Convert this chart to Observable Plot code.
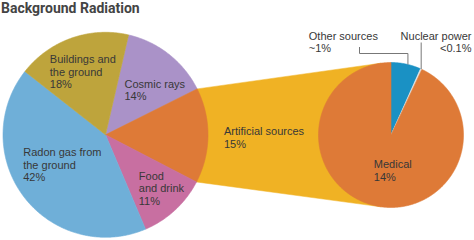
<!DOCTYPE html>
<html><head><meta charset="utf-8">
<script src="https://cdn.jsdelivr.net/npm/d3@7"></script>
<script src="https://cdn.jsdelivr.net/npm/@observablehq/plot@0.6"></script>
<style>
body{margin:0;background:#fff;}
#title{font-family:Roboto,"Liberation Sans",sans-serif;font-weight:700;font-size:14px;line-height:16px;height:20px;color:#444;padding-left:1px;box-sizing:border-box;white-space:nowrap;}
#chart svg{display:block;}
</style></head><body>
<div id="title">Background Radiation</div>
<div id="chart"></div>
<script>
// ---- data ----
const leftCategories = ["Cosmic rays", "Artificial sources", "Food and drink", "Radon gas from the ground", "Buildings and the ground"];
const leftValues = [14, 15, 11, 42, 18];
const leftLabelLines = [["Cosmic rays"], ["Artificial sources"], ["Food", "and drink"], ["Radon gas from", "the ground"], ["Buildings and", "the ground"]];
const leftColors = ["#aa92c8", "#de7a37", "#c86fa1", "#6fafd8", "#bea43c"];

const rightCategories = ["Other sources", "Nuclear power", "Medical"];
const rightValues = [1, 0.05, 13.95];
const rightLabelLines = [["Other sources", "~1%"], ["Nuclear power", "<0.1%"], ["Medical", "14%"]];
const rightColors = ["#1a91c4", "#e4e4e4", "#de7a37"];

const connectorColor = "#f0b224";
const textColor = "#383838";

// ---- layout ----
const W = 474, H = 240, top0 = 20;
const L = {cx: 105, cy: 134.3, r: 102.5, start: 13};
const R = {cx: 390.5, cy: 134.5, r: 72.5, start: 0};
const lineStep = 12.6;
const leftLabelPos = [[124, 87], [223.5, 134.5], [138.3, 179], [22.7, 155.7], [49.3, 62.5]];
const rightLabelPos = [[308.3, 39, "start"], [471, 39, "end"], [373.3, 167.5, "start"]];

function pieAngles(values, startDeg) {
  const total = d3.sum(values);
  let a = startDeg;
  return values.map(v => { const s = a; a += v / total * 360; return [s, a]; });
}
function pt(c, deg, r = c.r) {
  const a = deg * Math.PI / 180;
  return [c.cx + r * Math.sin(a), c.cy - r * Math.cos(a)];
}
function wedge(c, a0, a1) {
  const pts = [[c.cx, c.cy]];
  const n = Math.max(2, Math.ceil((a1 - a0) / 0.5));
  for (let i = 0; i <= n; i++) pts.push(pt(c, a0 + (a1 - a0) * i / n));
  pts.push([c.cx, c.cy]);
  return pts;
}
function tangent(P, c, upper) {
  const dx = P[0] - c.cx, dy = P[1] - c.cy;
  const d = Math.hypot(dx, dy);
  const th = Math.atan2(dy, dx), al = Math.acos(c.r / d);
  const cands = [th + al, th - al].map(t => [c.cx + c.r * Math.cos(t), c.cy + c.r * Math.sin(t)]);
  cands.sort((a, b) => a[1] - b[1]);
  return upper ? cands[0] : cands[1];
}

const la = pieAngles(leftValues, L.start);
const ra = pieAngles(rightValues, R.start);
const artIdx = leftCategories.indexOf("Artificial sources");
const A1 = pt(L, la[artIdx][0]), A2 = pt(L, la[artIdx][1]);
const T1 = tangent(A1, R, true), T2 = tangent(A2, R, false);
const connector = [[L.cx, L.cy], A1, T1, [R.cx, R.cy], T2, A2, [L.cx, L.cy]];

const X = d => d[0], Y = d => d[1];
const marks = [];
marks.push(Plot.line(connector, {x: X, y: Y, fill: connectorColor, stroke: connectorColor, strokeWidth: 0.5, curve: "linear-closed"}));
la.forEach(([a0, a1], i) => marks.push(Plot.line(wedge(L, a0, a1), {x: X, y: Y, fill: leftColors[i], stroke: leftColors[i], strokeWidth: 0.6})));
ra.forEach(([a0, a1], i) => marks.push(Plot.line(wedge(R, a0, a1), {x: X, y: Y, fill: rightColors[i], stroke: rightColors[i], strokeWidth: 0.6})));

// leader lines
const otherEnd = pt(R, (ra[0][0] + ra[0][1]) / 2 + 1.5);
const nucEnd = pt(R, (ra[1][0] + ra[1][1]) / 2);
const leaders = [
  [[359, 46.5], [359, 53], [otherEnd[0], 53], otherEnd],
  [[nucEnd[0], 42], nucEnd]
];
leaders.forEach(l => marks.push(Plot.line(l, {x: X, y: Y, stroke: "#777", strokeWidth: 1, strokeLinejoin: "miter", strokeLinecap: "butt"})));

// labels
const texts = [];
leftCategories.forEach((c, i) => {
  const lines = [...leftLabelLines[i], `${leftValues[i]}%`];
  lines.forEach((t, j) => texts.push({t, x: leftLabelPos[i][0], y: leftLabelPos[i][1] + j * lineStep, anchor: "start"}));
});
rightCategories.forEach((c, i) => {
  rightLabelLines[i].forEach((t, j) => texts.push({t, x: rightLabelPos[i][0], y: rightLabelPos[i][1] + j * lineStep, anchor: rightLabelPos[i][2]}));
});
const textOpts = {x: "x", y: "y", text: "t", lineAnchor: "bottom", fill: textColor, fontSize: 11, fontFamily: "'Liberation Sans', Arial, sans-serif"};
marks.push(Plot.text(texts.filter(d => d.anchor === "start"), {...textOpts, textAnchor: "start"}));
marks.push(Plot.text(texts.filter(d => d.anchor === "end"), {...textOpts, textAnchor: "end"}));

const chart = Plot.plot({
  width: W, height: H - top0,
  margin: 0, marginTop: 0, marginRight: 0, marginBottom: 0, marginLeft: 0,
  x: {domain: [0, W], range: [0, W], axis: null},
  y: {domain: [top0, H], range: [0, H - top0], axis: null},
  style: {background: "#fff", overflow: "visible"},
  marks
});
document.getElementById("chart").appendChild(chart);
</script>
</body></html>
